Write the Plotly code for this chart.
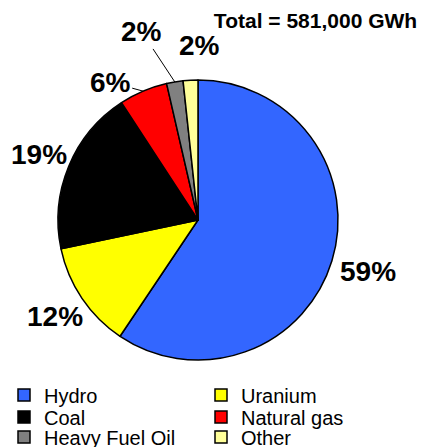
import numpy as np
import plotly.graph_objects as go

categories = ["Hydro", "Uranium", "Coal", "Natural gas", "Heavy Fuel Oil", "Other"]
shares = [59.4, 12.3, 19.1, 5.6, 1.9, 1.7]
colors = ["#3366FF", "#FFFF00", "#000000", "#FF0000", "#808080", "#FFFF99"]
title_text = "Total = 581,000 GWh"
legend_rows = [["Hydro", "Uranium"], ["Coal", "Natural gas"], ["Heavy Fuel Oil", "Other"]]

# label placement style (pixel offsets of dragged labels, None = radial placement)
label_offsets = [None, None, None, (-33, -9), (-33, -50), (9, -35)]
label_leader = [False, False, False, True, True, False]

FONT = "Arial, Liberation Sans, sans-serif"
W, H = 425, 447
CX, CY, R = 198, 220, 140  # pie centre / radius in px

fig = go.Figure()
fig.add_trace(go.Pie(
    labels=categories, values=shares, sort=False, direction="clockwise", rotation=0,
    marker=dict(colors=colors, line=dict(color="black", width=1.5)),
    textinfo="none",
    domain=dict(x=[(CX - R) / W, (CX + R) / W], y=[1 - (CY + R) / H, 1 - (CY - R) / H]),
    showlegend=False, hoverinfo="label+percent",
))

vals = np.array(shares, dtype=float)
frac = vals / vals.sum()
mid = (np.cumsum(frac) - frac / 2) * 2 * np.pi
radial_k = [1.27, 1.23, 1.23, 1.0, 1.0, 1.0]
annotations = []
for i, th in enumerate(mid):
    txt = f"{round(frac[i] * 100):.0f}%"
    off = label_offsets[i]
    font = dict(family=FONT, size=28, color="black", weight="bold")
    if off is None:
        k = radial_k[i]
        px, py = CX + k * R * np.sin(th), CY - k * R * np.cos(th)
        annotations.append(dict(x=px / W, y=1 - py / H, xref="paper", yref="paper", text=txt,
                                showarrow=False, xanchor="center", yanchor="middle", font=font))
    else:
        px, py = CX + R * np.sin(th), CY - R * np.cos(th)
        if label_leader[i]:
            annotations.append(dict(x=px / W, y=1 - py / H, xref="paper", yref="paper", text=txt,
                                    showarrow=True, ax=off[0], ay=off[1], arrowhead=0,
                                    arrowwidth=1, arrowcolor="black", standoff=0, font=font))
        else:
            annotations.append(dict(x=px / W, y=1 - py / H, xref="paper", yref="paper", text=txt,
                                    showarrow=False, xshift=off[0], yshift=-off[1],
                                    xanchor="center", yanchor="middle", font=font))

row_y = [395, 417, 437]
legend_names = ["legend", "legend2", "legend3"]
cmap = dict(zip(categories, colors))
for r, row in enumerate(legend_rows):
    for name in row:
        fig.add_trace(go.Scatter(
            x=[None], y=[None], mode="markers", name=name,
            marker=dict(symbol="square", size=12, color=cmap[name], line=dict(color="black", width=1.5)),
            legend=legend_names[r], showlegend=True,
        ))

leg_common = dict(orientation="h", x=4 / W, xanchor="left", yanchor="middle",
                  bgcolor="rgba(0,0,0,0)", font=dict(family=FONT, size=20, color="black"),
                  entrywidth=152, entrywidthmode="pixels", itemclick=False)

fig.update_layout(
    width=W, height=H, margin=dict(l=0, r=0, t=0, b=0, autoexpand=False),
    paper_bgcolor="white", plot_bgcolor="white",
    xaxis=dict(visible=False), yaxis=dict(visible=False),
    title=dict(text=title_text, x=315.5 / W, xanchor="center", y=1 - 21 / H, yanchor="middle",
               font=dict(family=FONT, size=21, color="black", weight="bold")),
    annotations=annotations,
    legend=dict(y=1 - row_y[0] / H, **leg_common),
    legend2=dict(y=1 - row_y[1] / H, **leg_common),
    legend3=dict(y=1 - row_y[2] / H, **leg_common),
)

fig.write_html("out.html", config={"displayModeBar": False},
               post_script="document.body.style.margin='0px';")
